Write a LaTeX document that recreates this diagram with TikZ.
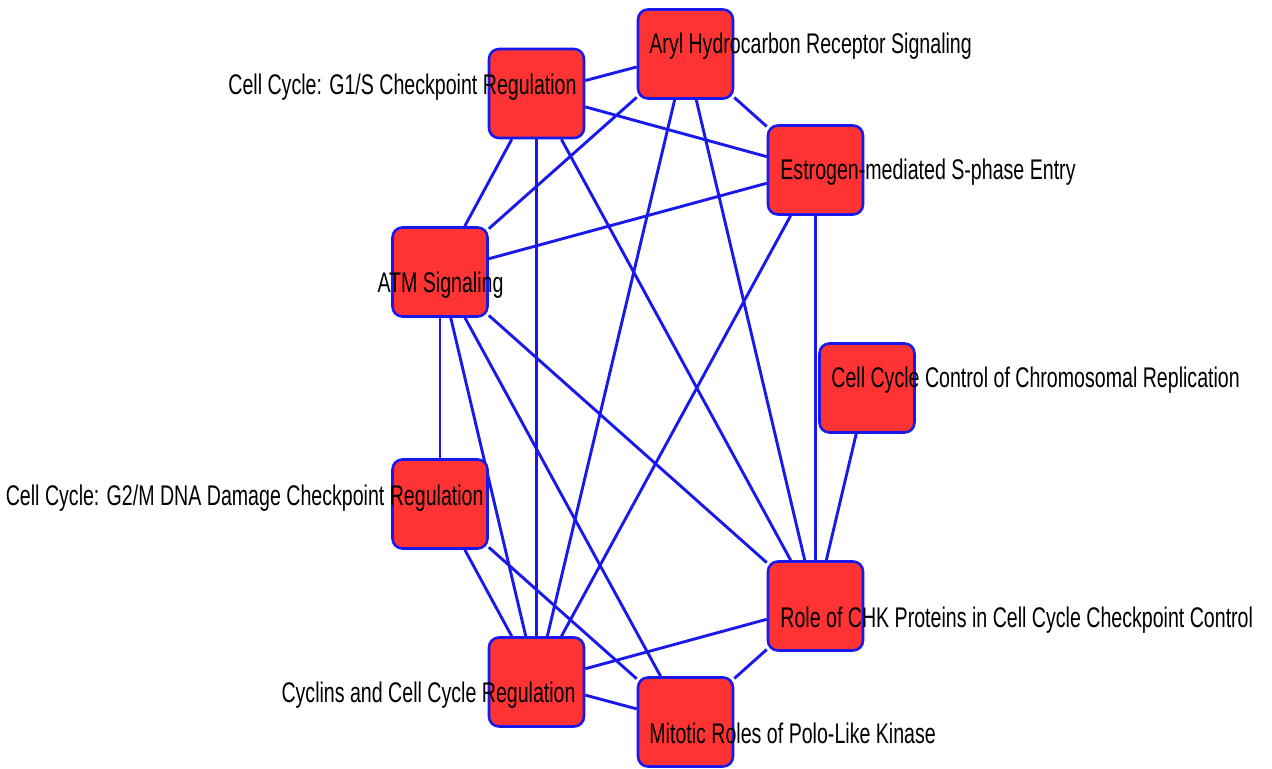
\documentclass[tikz,border=0pt]{standalone}
\usepackage{fontspec}
\newfontfamily\narrowsans[FakeStretch=0.69]{Liberation Sans}
\definecolor{nodered}{RGB}{255,51,51}
\definecolor{edgeblue}{RGB}{25,25,235}
\pgfdeclarelayer{background}
\pgfsetlayers{background,main}
\begin{document}
\begin{tikzpicture}[x=0.5pt, y=-0.5pt]
        \tikzstyle{pathway}=[draw=edgeblue, fill=nodered, line width=1.3pt, rounded corners=5pt, minimum width=47.5pt, minimum height=44.5pt, inner sep=0pt]
        \tikzstyle{caption}=[inner sep=0pt, font=\narrowsans\fontsize{14.2}{16}\selectfont]
        \tikzstyle{link}=[draw=edgeblue, line width=1.45pt]

        \useasboundingbox (0,0) rectangle (1272,769);

        \node[pathway](ahr) at (685.5,54){};
        \node[pathway](g1s) at (536.5,93.5){};
        \node[pathway](est) at (815.5,170){};
        \node[pathway](atm) at (440,272){};
        \node[pathway](ccr) at (867,388){};
        \node[pathway](g2m) at (440,504){};
        \node[pathway](chk) at (815.5,606){};
        \node[pathway](cyc) at (536.5,682){};
        \node[pathway](plk) at (685.5,722){};

        \node[caption, anchor=base west](ahrText) at (649,54){Aryl Hydrocarbon Receptor Signaling};
        \node[caption, anchor=base east](g1sText) at (577,95){Cell Cycle: G1/S Checkpoint Regulation};
        \node[caption, anchor=base west](estText) at (780,180){Estrogen-mediated S-phase Entry};
        \node[caption, anchor=base](atmText) at (440.5,293){ATM Signaling};
        \node[caption, anchor=base west](ccrText) at (831,388){Cell Cycle Control of Chromosomal Replication};
        \node[caption, anchor=base east](g2mText) at (484,505){Cell Cycle: G2/M DNA Damage Checkpoint Regulation};
        \node[caption, anchor=base west](chkText) at (780,627){Role of CHK Proteins in Cell Cycle Checkpoint Control};
        \node[caption, anchor=base east](cycText) at (576,702){Cyclins and Cell Cycle Regulation};
        \node[caption, anchor=base west](plkText) at (649,743){Mitotic Roles of Polo-Like Kinase};

        \begin{pgfonlayer}{background}
        \draw[link] (g1s) -- (ahr);
        \draw[link] (g1s) -- (est);
        \draw[link] (g1s) -- (atm);
        \draw[link] (g1s) -- (cyc);
        \draw[link] (g1s) -- (chk);
        \draw[link] (ahr) -- (est);
        \draw[link] (ahr) -- (atm);
        \draw[link] (ahr) -- (cyc);
        \draw[link] (ahr) -- (chk);
        \draw[link] (est) -- (atm);
        \draw[link] (est) -- (chk);
        \draw[link] (est) -- (cyc);
        \draw[link] (atm) -- (g2m);
        \draw[link] (atm) -- (cyc);
        \draw[link] (atm) -- (plk);
        \draw[link] (atm) -- (chk);
        \draw[link] (ccr) -- (chk);
        \draw[link] (g2m) -- (cyc);
        \draw[link] (g2m) -- (plk);
        \draw[link] (chk) -- (cyc);
        \draw[link] (chk) -- (plk);
        \draw[link] (cyc) -- (plk);
        \end{pgfonlayer}

        \end{tikzpicture}
\end{document}
